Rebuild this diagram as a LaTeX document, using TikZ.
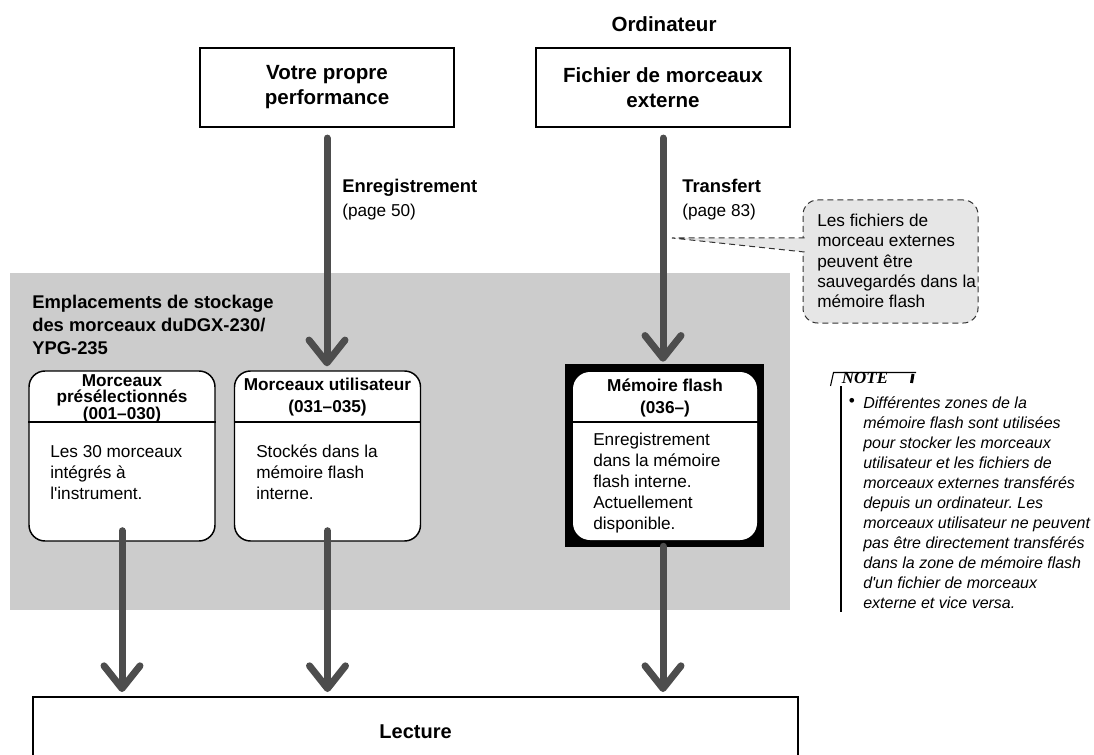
\documentclass[tikz,border=0pt]{standalone}
\usepackage{fontspec}
\setmainfont{Liberation Sans}[Ligatures=TeXOff]
\newfontfamily\notefont{Liberation Serif}
\usetikzlibrary{arrows.meta,positioning}
\frenchspacing

\definecolor{shaftgray}{RGB}{77,77,77}
\definecolor{storegray}{RGB}{204,204,204}
\definecolor{hintgray}{RGB}{230,230,230}

\tikzset{
  topbox/.style={draw,line width=1.6pt,minimum width=190.5pt,minimum height=59.25pt,align=center,inner sep=0pt,font=\fontsize{15.4}{18.75}\selectfont\bfseries},
  songbox/.style={draw,line width=1.1pt,rounded corners=12pt,fill=white,minimum width=139.5pt,minimum height=127.5pt,inner sep=0pt},
  headtxt/.style={align=center,inner sep=0.75pt,font=\fontsize{12.9}{16.5}\selectfont\bfseries},
  bodytxt/.style={anchor=north west,align=left,inner sep=0.75pt,font=\fontsize{12.9}{15.75}\selectfont},
  flowarrow/.style={draw=shaftgray,line width=5.25pt,line cap=round,-{Straight Barb[length=17pt,width=27pt,round]}},
  hintline/.style={draw=black!80,line width=0.75pt,dash pattern=on 4.5pt off 3pt},
}

\begin{document}
\begin{tikzpicture}[x=0.75pt,y=0.75pt,yscale=-1,xscale=1]
\useasboundingbox (0,0) rectangle (1094,755);

%Shape: Rectangle [storage area]
\fill[storegray] (10,273) rectangle (790,610);

% Text Node
\node[headtxt,font=\fontsize{15.4}{18.75}\selectfont\bfseries] (pc) at (664,24) {Ordinateur};

%Shape: Rectangle
\node[topbox] (perf) at (327,87.5) {Votre propre\\performance};
%Shape: Rectangle
\node[topbox] (file) at (663,87.5) {Fichier de morceaux\\externe};

% Text Node
\node[bodytxt,font=\fontsize{12.9}{18}\selectfont] (reclbl) at (341,178) {{\bfseries\fontsize{13.8}{18}\selectfont Enregistrement}\\(page 50)};
% Text Node
\node[bodytxt,font=\fontsize{12.9}{18}\selectfont] (xferlbl) at (681,178) {{\bfseries\fontsize{13.8}{18}\selectfont Transfert}\\(page 83)};

% Text Node
\node[bodytxt,font=\fontsize{13.8}{17.25}\selectfont\bfseries] (storettl) at (31,294) {Emplacements de stockage\\des morceaux duDGX-230/\\YPG-235};

\coordinate (cut) at (0,422);

%Rounded Rect [preset]
\node[songbox] (preset) at (122,456) {};
\draw[line width=1.1pt] (preset.west |- cut) -- (preset.east |- cut);
\node[headtxt,font=\fontsize{12.9}{11.6}\selectfont\bfseries] (presethd) at (122,399) {Morceaux\\présélectionnés\\(001–030)};
\node[bodytxt] (presetbd) at (49,444) {Les 30 morceaux\\intégrés à\\l'instrument.};

%Rounded Rect [user]
\node[songbox] (user) at (327.5,456) {};
\draw[line width=1.1pt] (user.west |- cut) -- (user.east |- cut);
\node[headtxt] (userhd) at (327.5,397) {Morceaux utilisateur\\(031–035)};
\node[bodytxt] (userbd) at (255,444) {Stockés dans la\\mémoire flash\\interne.};

%Shape: Rectangle [flash frame]
\node[fill=black,minimum width=149.25pt,minimum height=137.25pt,inner sep=0pt] (flashframe) at (664.5,455.5) {};
\node[songbox,draw=none,rounded corners=12.75pt,minimum width=138pt,minimum height=126pt] (flash) at (665,456) {};
\draw[line width=0.8pt] (flash.west |- cut) -- (flash.east |- cut);
\node[headtxt] (flashhd) at (665,398) {Mémoire flash\\(036–)};
\node[bodytxt] (flashbd) at (592,432) {Enregistrement\\dans la mémoire\\flash interne.\\Actuellement\\disponible.};

%Shape: Rectangle [playback]
\begin{scope}
\clip (0,0) rectangle (1094,755);
\node[draw,line width=1.6pt,minimum width=573.75pt,minimum height=52.5pt,anchor=north west,inner sep=0pt,font=\fontsize{15}{18}\selectfont\bfseries] (play) at (32,696) {Lecture};
\end{scope}

% Arrows
\draw[flowarrow,shorten >=3pt] ([yshift=7.5pt]perf.south) -- (perf.south |- user.north);
\draw[flowarrow,shorten >=1.5pt] ([yshift=7.5pt]file.south) -- (file.south |- flashframe.north);
\draw[flowarrow,shorten >=3pt] ([yshift=-8.25pt]preset.south) -- (preset.south |- play.north);
\draw[flowarrow,shorten >=3pt] ([yshift=-8.25pt]user.south) -- (user.south |- play.north);
\draw[flowarrow,shorten >=3pt] ([yshift=-0.75pt]file.south |- flashframe.south) -- (file.south |- play.north);

%Callout
\node[hintline,fill=hintgray,rounded corners=11pt,minimum width=131.25pt,minimum height=92.25pt,inner sep=0pt] (hint) at (890.5,261.5) {};
\coordinate (hinttip) at (672,238);
\coordinate (hintup) at (804.5,238);
\coordinate (hintlow) at (804.5,252);
\fill[hintgray] (hinttip) -- (hintup) -- (hintlow) -- cycle;
\draw[hintline] (hintup) -- (hinttip) -- (hintlow);
\node[bodytxt,font=\fontsize{12.9}{15.2}\selectfont] (hinttxt) at (816,213) {Les fichiers de\\morceau externes\\peuvent être\\sauvegardés dans la\\mémoire flash};

%NOTE
\node[inner sep=0pt,font=\notefont\fontsize{12.7}{14}\selectfont\bfseries\itshape] (notetag) at (865,378) {NOTE};
\draw[line width=0.8pt] (830.5,386) -- (833.5,372.5) -- (916,372.5);
\draw[line width=2.2pt] (913,374) -- (911.5,383);
\draw[line width=0.8pt] (841,386) -- (841,612);
\node[inner sep=0pt,font=\fontsize{13}{15}\selectfont] (notebul) at (852,402) {•};
\node[bodytxt,font=\fontsize{12}{15}\selectfont\itshape] (notetxt) at (862,395) {Différentes zones de la\\mémoire flash sont utilisées\\pour stocker les morceaux\\utilisateur et les fichiers de\\morceaux externes transférés\\depuis un ordinateur. Les\\morceaux utilisateur ne peuvent\\pas être directement transférés\\dans la zone de mémoire flash\\d'un fichier de morceaux\\externe et vice versa.};
\end{tikzpicture}
\end{document}
